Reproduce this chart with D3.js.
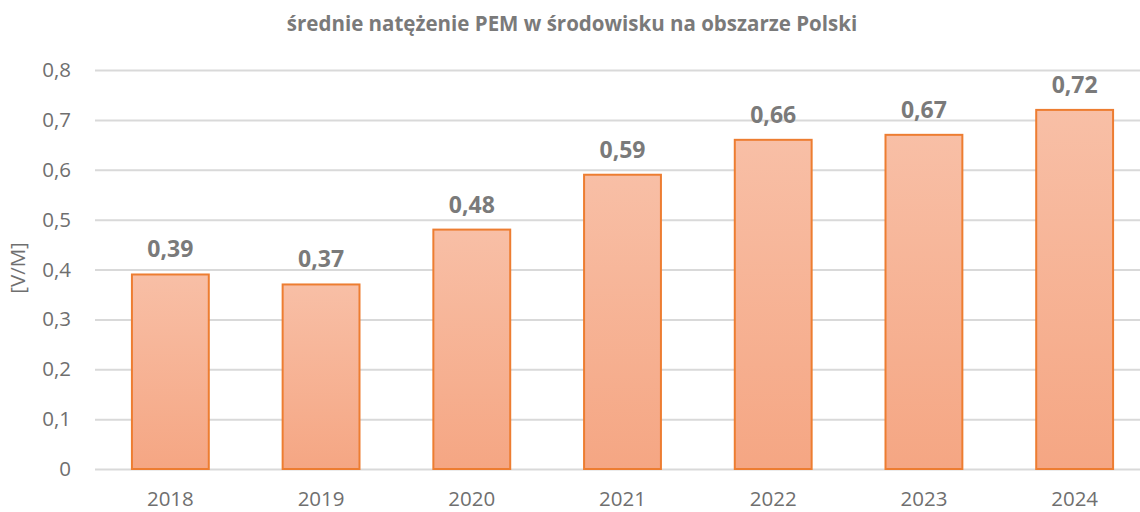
<!DOCTYPE html>
<html><head><meta charset="utf-8">
<script src="https://cdn.jsdelivr.net/npm/d3@7"></script>
<style>body{margin:0;background:#fff}svg{display:block}</style>
</head><body>
<svg id="c" width="1140" height="512"></svg>
<script>
const years = ["2018","2019","2020","2021","2022","2023","2024"];
const values = [0.39,0.37,0.48,0.59,0.66,0.67,0.72];
const yTicks = [0,0.1,0.2,0.3,0.4,0.5,0.6,0.7,0.8];
const title = "średnie natężenie PEM w środowisku na obszarze Polski";
const yLabel = "[V/M]";

const svg = d3.select("#c");
const font = "'Open Sans', sans-serif";
const fmt = v => v === 0 ? "0" : d3.format(".1f")(v).replace(".", ",");
const fmt2 = v => d3.format(".2f")(v).replace(".", ",");

const x = d3.scaleBand().domain(years).range([95, 1150]).paddingInner(0.49).paddingOuter(0.245);
const y = d3.scaleLinear().domain([0, 0.8]).range([469, 70]);

const defs = svg.append("defs");
const g = defs.append("linearGradient").attr("id","gr").attr("x1",0).attr("y1",0).attr("x2",0).attr("y2",1);
g.append("stop").attr("offset","0%").attr("stop-color","#f8bfa6");
g.append("stop").attr("offset","100%").attr("stop-color","#f5a683");

svg.append("text").attr("x", 572).attr("y", 31).attr("text-anchor","middle")
  .attr("font-family", font).attr("font-weight","bold").attr("font-size", 20.5)
  .attr("fill","#7a7a7a").text(title);

const gy = svg.append("g").attr("transform","translate(95,0)")
  .call(d3.axisLeft(y).tickValues(yTicks).tickSize(-1060).tickFormat(fmt));
gy.select(".domain").remove();
gy.selectAll(".tick line").attr("stroke","#d9d9d9").attr("stroke-width",2);
gy.selectAll(".tick text").attr("x",-24).attr("font-family",font).attr("font-size",20.5).attr("fill","#6f6f6f");

svg.selectAll("rect.bar").data(values).join("rect").attr("class","bar")
  .attr("x",(d,i)=>x(years[i])).attr("width",x.bandwidth())
  .attr("y",d=>y(d)).attr("height",d=>y(0)-y(d))
  .attr("fill","url(#gr)").attr("stroke","#ed7d31").attr("stroke-width",2);

svg.selectAll("text.lbl").data(values).join("text").attr("class","lbl")
  .attr("x",(d,i)=>x(years[i])+x.bandwidth()/2).attr("y",d=>y(d)-17)
  .attr("text-anchor","middle").attr("font-family",font).attr("font-weight","bold")
  .attr("font-size",23).attr("fill","#7a7a7a").text(fmt2);

const gx = svg.append("g").attr("transform","translate(0,469)")
  .call(d3.axisBottom(x).tickSize(0));
gx.select(".domain").remove();
gx.selectAll(".tick text").attr("dy",0).attr("y",37).attr("font-family",font).attr("font-size",20.5).attr("fill","#6f6f6f");

svg.append("text").attr("transform","translate(25,268) rotate(-90)").attr("text-anchor","middle")
  .attr("font-family",font).attr("font-size",20.5).attr("fill","#6f6f6f").text(yLabel);
</script>
</body></html>
